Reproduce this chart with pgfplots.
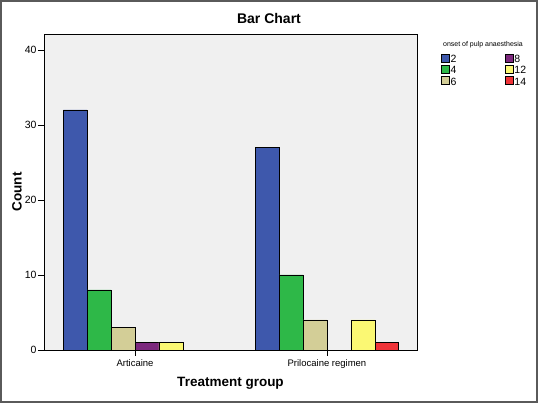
\documentclass[border=0pt]{standalone}
\usepackage{pgfplots}
\pgfplotsset{compat=1.18}
\usepackage{fontspec}
\setmainfont{Liberation Sans}
\definecolor{cblue}{HTML}{3E58AC}
\definecolor{cgreen}{HTML}{2EB848}
\definecolor{ctan}{HTML}{D3CE97}
\definecolor{cpurple}{HTML}{7C287D}
\definecolor{cyellow}{HTML}{FBF873}
\definecolor{cred}{HTML}{EF3338}
\definecolor{axbg}{HTML}{F0F0F0}
\definecolor{frame}{HTML}{5A5A5A}
\begin{document}
\begin{tikzpicture}
\useasboundingbox (0pt,0pt) rectangle (538pt,403pt);
\fill[white] (0pt,0pt) rectangle (538pt,403pt);
\begin{axis}[
  at={(44pt,53pt)}, anchor=south west,
  scale only axis, width=373pt, height=316pt,
  xmin=-0.474, xmax=1.469, ymin=0, ymax=42.13,
  ybar, bar width=0.1245,
  axis background/.style={fill=axbg},
  axis line style={black, line width=0.8pt},
  tick style={black, line width=0.6pt},
  tick pos=left, tick align=outside, major tick length=6pt,
  xtick={0,1}, xticklabels={Articaine, Prilocaine regimen},
  ytick={0,10,20,30,40},
  /pgf/number format/assume math mode=true,
  yticklabel style={font=\fontsize{10.5}{11}\selectfont, xshift=2pt},
  xticklabel style={font=\fontsize{9.5}{10}\selectfont},
  title={Bar Chart},
  every axis title/.style={at={(axis description cs:0.6032,1.0506)}, anchor=center, font=\bfseries\fontsize{14}{16}\selectfont},
  xlabel={Treatment group},
  every axis x label/.style={at={(axis description cs:0.5,-0.1044)}, anchor=center, font=\bfseries\fontsize{13.5}{15}\selectfont},
  ylabel={Count},
  every axis y label/.style={at={(axis description cs:-0.0724,0.5)}, rotate=90, anchor=center, font=\bfseries\fontsize{13.5}{15}\selectfont},
  legend image code/.code={\draw[#1, draw=black, line width=0.5pt] (0pt,-2.2pt) rectangle (8pt,5.8pt);},
  transpose legend, legend columns=3, legend cell align=left,
  legend style={at={(axis description cs:1,1)}, anchor=north west, xshift=24pt, yshift=-19.5pt,
    draw=none, fill=none, inner sep=0pt, font=\fontsize{10.5}{11}\selectfont,
    row sep=0pt, nodes={inner sep=0.8pt},
    /tikz/every even column/.append style={column sep=48pt}},
]
\addplot[fill=cblue, draw=black, line width=0.5pt, bar shift=-0.3113] coordinates {(0,32) (1,27)};
\addplot[fill=cgreen, draw=black, line width=0.5pt, bar shift=-0.1868] coordinates {(0,8) (1,10)};
\addplot[fill=ctan, draw=black, line width=0.5pt, bar shift=-0.0623] coordinates {(0,3) (1,4)};
\addplot[fill=cpurple, draw=black, line width=0.5pt, bar shift=0.0623] coordinates {(0,1)};
\addplot[fill=cyellow, draw=black, line width=0.5pt, bar shift=0.1868] coordinates {(0,1) (1,4)};
\addplot[fill=cred, draw=black, line width=0.5pt, bar shift=0.3113] coordinates {(1,1)};
\legend{2,4,6,8,12,14}
\end{axis}
\node[font=\fontsize{7}{8}\selectfont, anchor=center] at (483pt,358pt) {onset of pulp anaesthesia};
\draw[frame, line width=2pt] (1pt,1pt) rectangle (537pt,402pt);
\end{tikzpicture}
\end{document}
